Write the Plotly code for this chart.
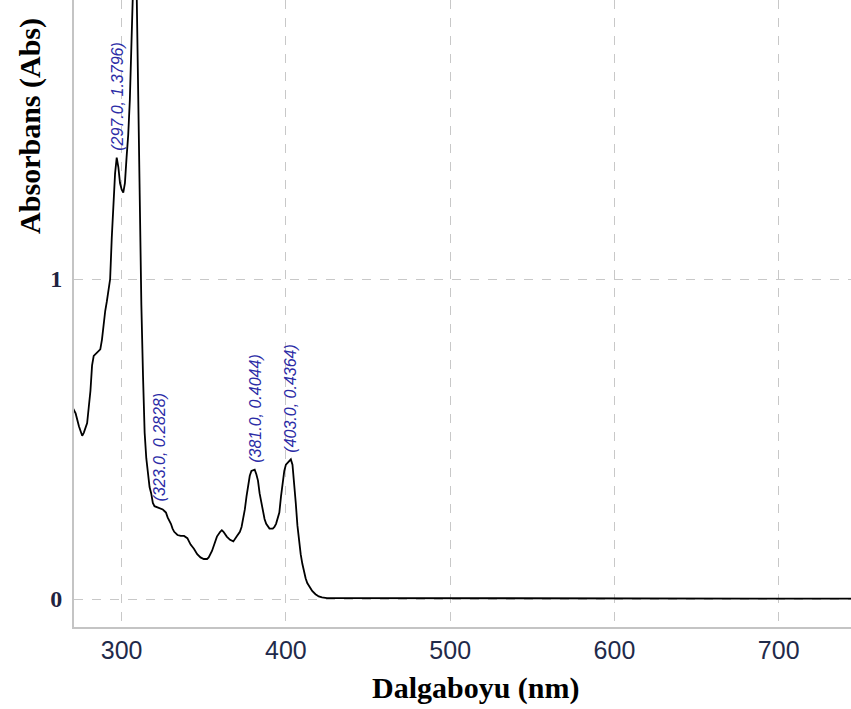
import plotly.graph_objects as go

# Wavelength (nm) and absorbance
wavelength = [270, 272, 274, 276, 277, 279, 280, 281, 282, 283, 285, 287, 288, 289, 290,
              291, 292, 293, 294, 295, 296, 297, 298, 299, 300, 301, 302, 303, 304, 305,
              306, 307, 308, 309, 310, 311, 312, 313, 314, 315, 316, 317, 318, 319, 320,
              321, 322, 323, 324, 325, 326, 327, 328, 329, 330, 331, 332, 334, 336, 338,
              340, 341, 342, 344, 346, 348, 350, 352, 353, 355, 357, 358, 360, 361, 362,
              364, 366, 368, 370, 372, 373, 374, 375, 376, 377, 378, 379, 380, 381, 382,
              383, 384, 385, 386, 387, 388, 390, 392, 393, 394, 395, 396, 397, 398, 399,
              400, 402, 403, 404, 405, 406, 407, 408, 409, 410, 411, 412, 413, 414, 416,
              418, 420, 422, 425, 430, 440, 450, 460, 470, 480, 490, 500, 510, 520, 530,
              540, 550, 560, 570, 580, 590, 600, 610, 620, 630, 640, 650, 660, 670, 680,
              690, 700, 710, 720, 730, 744]
absorbance = [0.60, 0.58, 0.54, 0.51, 0.52, 0.55, 0.60, 0.65, 0.73, 0.76, 0.77, 0.78, 0.81, 0.86, 0.90,
              0.93, 0.97, 1.00, 1.13, 1.25, 1.33, 1.3796, 1.35, 1.30, 1.28, 1.27, 1.30, 1.38, 1.45, 1.56,
              1.70, 1.88, 2.10, 1.95, 1.60, 1.20, 0.92, 0.70, 0.52, 0.44, 0.39, 0.35, 0.33, 0.30, 0.29,
              0.288, 0.285, 0.2828, 0.282, 0.280, 0.275, 0.27, 0.255, 0.245, 0.235, 0.22, 0.21, 0.20, 0.197, 0.197,
              0.19, 0.18, 0.17, 0.157, 0.14, 0.13, 0.125, 0.125, 0.13, 0.15, 0.18, 0.195, 0.21, 0.215, 0.21,
              0.195, 0.185, 0.18, 0.195, 0.21, 0.225, 0.25, 0.28, 0.32, 0.36, 0.385, 0.40, 0.403, 0.4044, 0.39,
              0.37, 0.33, 0.30, 0.27, 0.25, 0.235, 0.22, 0.22, 0.225, 0.235, 0.25, 0.27, 0.32, 0.37, 0.40,
              0.42, 0.43, 0.4364, 0.42, 0.37, 0.30, 0.23, 0.18, 0.14, 0.11, 0.085, 0.065, 0.05, 0.04, 0.025,
              0.015, 0.008, 0.005, 0.003, 0.003, 0.003, 0.002, 0.003, 0.002, 0.002, 0.003, 0.003, 0.002, 0.002, 0.003,
              0.002, 0.002, 0.002, 0.002, 0.002, 0.002, 0.002, 0.002, 0.001, 0.001, 0.001, 0.001, 0.001, 0.001, 0.001,
              0.001, 0.001, 0.001, 0.001, 0.001, 0.001]

peak_x = [297.0, 323.0, 381.0, 403.0]
peak_y = [1.3796, 0.2828, 0.4044, 0.4364]

x_ticks = [300, 400, 500, 600, 700]
y_ticks = [0, 1]

fig = go.Figure()
fig.add_trace(go.Scatter(x=wavelength, y=absorbance, mode="lines",
                         line=dict(color="black", width=1.8), hoverinfo="skip"))

for px, py in zip(peak_x, peak_y):
    fig.add_annotation(x=px, y=py, text=f"({px:.1f}, {py:.4f})", showarrow=False,
                       textangle=-90, xanchor="center", yanchor="bottom", yshift=5,
                       font=dict(family="Liberation Sans", size=16, color="#2b2ba6", style="italic"))

fig.add_annotation(xref="paper", yref="paper", x=0.517, y=-0.097, text="<b>Dalgaboyu (nm)</b>",
                   showarrow=False, xanchor="center", yanchor="middle",
                   font=dict(family="Liberation Serif", size=30, color="black"))
fig.add_annotation(xref="paper", yref="paper", x=-0.056, y=0.8, text="<b>Absorbans (Abs)</b>",
                   showarrow=False, textangle=-90, xanchor="center", yanchor="middle",
                   font=dict(family="Liberation Serif", size=30, color="black"))

fig.update_layout(
    width=851, height=709,
    margin=dict(l=74, r=0, t=0, b=82),
    plot_bgcolor="white", paper_bgcolor="white",
    showlegend=False,
    xaxis=dict(range=[271, 744], tickvals=x_ticks, ticktext=[str(v) for v in x_ticks],
               showgrid=True, gridcolor="#c8c8c8", griddash="dash", gridwidth=1,
               showline=True, linecolor="#c4c4c4", linewidth=2, ticks="", zeroline=False,
               ticklabelstandoff=0,
               tickfont=dict(family="Liberation Sans", size=25, color="#1f2a4a")),
    yaxis=dict(range=[-0.0875, 1.872], tickvals=y_ticks, ticktext=["<b>0</b>", "<b>1</b>"],
               showgrid=True, gridcolor="#c8c8c8", griddash="dash", gridwidth=1,
               showline=True, linecolor="#c4c4c4", linewidth=2, ticks="", zeroline=False,
               ticklabelstandoff=5,
               tickfont=dict(family="Liberation Serif", size=24, color="#1f2340")),
)

fig.write_html("out.html", config={"displayModeBar": False},
               post_script="document.body.style.margin='0';document.body.style.overflow='hidden';")
